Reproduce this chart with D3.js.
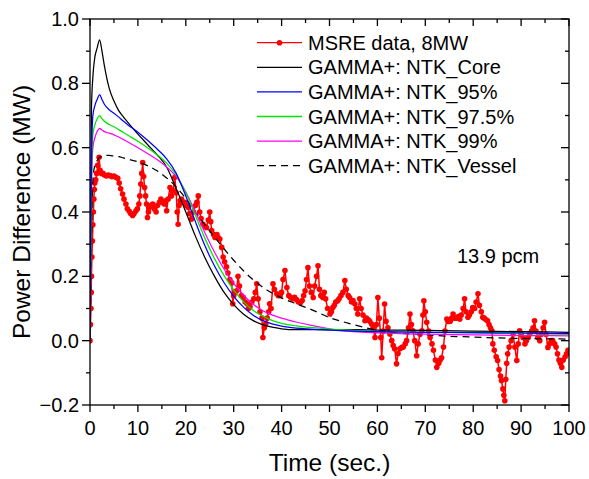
<!DOCTYPE html>
<html><head><meta charset="utf-8">
<script src="https://cdn.jsdelivr.net/npm/d3@7"></script>
<style>body{margin:0;background:#fff}svg{display:block}text{font-family:"Liberation Sans",Arial,sans-serif;fill:#000}</style>
</head><body><svg id="c" width="589" height="479"></svg>
<script>
// ---------- data ----------
const msreT = [0,0.1,0.2,0.25,0.3,0.4,0.5,0.6,0.7,0.8,0.9,1.0,1.2,1.4,1.6,1.9,2.1,2.4,2.7,3.0,3.4,3.8,4.2,4.6,5.0,5.4,5.8,6.1,6.4,6.8,7.1,7.5,7.8,8.2,8.5,8.9,9.2,9.6,9.9,10.2,10.4,10.6,10.8,11.0,11.2,11.4,11.6,11.8,12.0,12.2,12.4,12.7,13.1,13.4,13.8,14.1,14.5,14.8,15.1,15.5,15.8,16.0,16.3,16.7,17.0,17.4,17.7,18.0,18.2,18.4,18.6,18.8,19.1,19.5,19.8,20.1,20.5,20.8,21.2,21.6,22.0,22.3,22.6,22.9,23.2,23.6,24.0,24.3,24.7,25.0,25.2,25.4,25.8,26.1,26.5,26.8,27.1,27.5,27.8,28.1,28.5,28.8,29.2,29.6,29.8,30.0,30.3,30.6,30.9,31.2,31.6,32.0,32.4,32.8,33.1,33.4,33.8,34.2,34.5,34.8,35.1,35.5,35.9,36.1,36.4,36.7,37.0,37.3,37.5,37.8,38.2,38.5,39.0,39.3,39.7,40.0,40.3,40.7,41.1,41.5,41.9,42.3,42.7,43.1,43.5,43.9,44.3,44.6,44.9,45.2,45.5,45.8,46.2,46.6,46.9,47.3,47.6,47.9,48.2,48.6,48.9,49.2,49.6,50.1,50.4,50.7,51.0,51.3,51.7,52.0,52.4,52.8,53.2,53.5,53.9,54.2,54.6,54.9,55.3,55.6,55.9,56.3,56.6,57.0,57.4,57.7,58.1,58.4,58.8,59.1,59.5,59.8,60.1,60.4,60.7,60.9,61.2,61.5,61.8,62.2,62.6,63.0,63.3,63.6,64.0,64.3,64.7,65.1,65.4,65.8,66.1,66.5,66.8,67.1,67.4,67.8,68.2,68.5,68.9,69.3,69.5,69.7,70.0,70.3,70.7,71.0,71.4,71.7,72.1,72.4,72.8,73.1,73.4,73.8,74.1,74.5,74.8,75.2,75.5,75.8,76.2,76.5,76.9,77.2,77.5,77.9,78.2,78.5,78.9,79.2,79.6,79.9,80.3,80.6,81.0,81.3,81.7,82.0,82.3,82.7,83.0,83.3,83.6,83.9,84.1,84.4,84.8,85.1,85.4,85.7,85.9,86.2,86.4,86.6,86.8,87.0,87.2,87.5,87.9,88.3,88.7,89.1,89.4,89.7,90.0,90.4,90.8,91.1,91.5,91.8,92.2,92.5,92.8,93.1,93.5,93.9,94.2,94.6,94.9,95.2,95.6,95.9,96.3,96.6,97.0,97.3,97.6,97.9,98.2,98.5,98.8,99.2,99.5,99.8,100];
const msreV = [0,0.05,0.1,0.15,0.2,0.26,0.31,0.36,0.4,0.44,0.47,0.49,0.5,0.52,0.545,0.57,0.53,0.52,0.52,0.515,0.512,0.515,0.513,0.51,0.512,0.508,0.505,0.49,0.472,0.456,0.44,0.425,0.41,0.402,0.395,0.389,0.395,0.404,0.41,0.425,0.45,0.487,0.52,0.554,0.51,0.476,0.45,0.425,0.383,0.4,0.414,0.42,0.425,0.41,0.4,0.42,0.43,0.44,0.43,0.425,0.435,0.404,0.44,0.476,0.45,0.466,0.508,0.46,0.4,0.362,0.42,0.435,0.44,0.43,0.43,0.42,0.414,0.395,0.378,0.4,0.42,0.43,0.45,0.4,0.38,0.362,0.355,0.352,0.375,0.4,0.37,0.342,0.33,0.321,0.33,0.32,0.316,0.29,0.26,0.245,0.23,0.21,0.19,0.18,0.115,0.14,0.15,0.155,0.2,0.17,0.14,0.135,0.12,0.115,0.1,0.105,0.12,0.13,0.15,0.177,0.13,0.09,0.07,0.01,0.04,0.053,0.07,0.09,0.115,0.1,0.177,0.16,0.146,0.14,0.14,0.15,0.19,0.218,0.165,0.14,0.134,0.13,0.135,0.128,0.12,0.118,0.125,0.14,0.155,0.19,0.227,0.17,0.15,0.134,0.17,0.2,0.233,0.16,0.14,0.134,0.15,0.13,0.1,0.083,0.09,0.103,0.11,0.12,0.124,0.13,0.14,0.15,0.187,0.16,0.14,0.134,0.12,0.125,0.114,0.1,0.083,0.13,0.1,0.08,0.062,0.07,0.065,0.06,0.052,0.04,0.01,0.05,0.134,0.07,0.01,-0.053,0.03,0.114,0.06,0.04,0.021,0.0,-0.015,-0.025,-0.072,-0.04,-0.025,-0.021,-0.02,-0.01,0.0,0.04,0.083,0.05,0.031,0.0,-0.047,-0.01,0.02,0.031,0.08,0.124,0.09,0.057,0.03,0.01,-0.01,-0.03,-0.06,-0.083,-0.07,-0.06,-0.053,-0.02,0.03,0.067,0.06,0.06,0.07,0.083,0.07,0.07,0.075,0.067,0.08,0.1,0.13,0.09,0.073,0.08,0.09,0.103,0.1,0.12,0.146,0.11,0.09,0.073,0.07,0.065,0.062,0.05,0.04,0.031,-0.01,-0.03,-0.05,-0.062,-0.09,-0.11,-0.124,-0.15,-0.17,-0.187,-0.12,-0.07,-0.041,-0.02,0.0,0.021,-0.02,-0.062,-0.01,0.031,0.02,0.01,-0.01,0.0,0.01,0.021,0.03,0.04,0.062,0.03,0.01,0.0,0.02,0.04,0.057,0.02,-0.021,-0.01,0.0,0.0,-0.01,-0.02,-0.041,-0.06,-0.07,-0.083,-0.06,-0.05,-0.041,-0.03,-0.04];

const modelT  = [0,0.3,0.6,1,1.5,2,2.5,3,4,5,6,7,8,10,12,14,16,18,20,22,24,26,28,30,32,34,36,38,40,43,46,50,55,60,70,80,90,100];
const coreV   = [0,0.72,0.82,0.88,0.91,0.935,0.9,0.855,0.785,0.745,0.715,0.695,0.677,0.642,0.61,0.578,0.54,0.472,0.4,0.325,0.258,0.2,0.15,0.112,0.083,0.063,0.05,0.042,0.037,0.034,0.034,0.034,0.034,0.033,0.032,0.03,0.028,0.026];
const ntk95V  = [0,0.55,0.7,0.73,0.75,0.765,0.75,0.735,0.718,0.707,0.695,0.682,0.67,0.648,0.623,0.596,0.565,0.52,0.45,0.37,0.295,0.232,0.18,0.138,0.105,0.08,0.063,0.052,0.045,0.039,0.036,0.033,0.03,0.028,0.026,0.025,0.024,0.022];
const ntk975V = [0,0.5,0.64,0.67,0.69,0.7,0.69,0.682,0.672,0.665,0.656,0.647,0.638,0.62,0.6,0.578,0.552,0.515,0.46,0.39,0.318,0.255,0.202,0.158,0.122,0.095,0.077,0.063,0.054,0.046,0.041,0.036,0.032,0.029,0.026,0.024,0.022,0.02];
const ntk99V  = [0,0.45,0.6,0.63,0.65,0.66,0.655,0.65,0.645,0.64,0.633,0.625,0.617,0.6,0.582,0.563,0.54,0.51,0.462,0.4,0.335,0.275,0.222,0.178,0.142,0.114,0.094,0.08,0.07,0.058,0.048,0.037,0.028,0.024,0.02,0.018,0.016,0.015];
const vesselV = [0,0.3,0.5,0.545,0.56,0.57,0.573,0.575,0.576,0.574,0.572,0.568,0.564,0.556,0.544,0.528,0.506,0.478,0.442,0.4,0.36,0.322,0.285,0.25,0.218,0.19,0.167,0.148,0.133,0.115,0.098,0.072,0.05,0.032,0.018,0.011,0.007,0.005];

const xTicks = [0,10,20,30,40,50,60,70,80,90,100];
const yTicks = [-0.2,0,0.2,0.4,0.6,0.8,1.0];
const legendLabels = ["MSRE data, 8MW","GAMMA+: NTK_Core","GAMMA+: NTK_95%","GAMMA+: NTK_97.5%","GAMMA+: NTK_99%","GAMMA+: NTK_Vessel"];
const annotation = "13.9 pcm";
const xTitle = "Time (sec.)";
const yTitle = "Power Difference (MW)";

// ---------- layout ----------
const L = 90, R = 569, T = 19, B = 405;
const svg = d3.select("#c");
const x = d3.scaleLinear().domain([0,100]).range([L,R]);
const y = d3.scaleLinear().domain([-0.2,1.0]).range([B,T]);

const plot = svg.append("g");
svg.append("clipPath").attr("id","clip").append("rect").attr("x",L).attr("y",T-3).attr("width",R-L).attr("height",B-T+6);
const clipped = plot.append("g").attr("clip-path","url(#clip)");

const line = d3.line().x(d=>x(d[0])).y(d=>y(d[1])).curve(d3.curveMonotoneX);
const series = [
  {v: vesselV, color:"#000", dash:"7,5"},
  {v: coreV, color:"#000", dash:null},
  {v: ntk99V, color:"#ff00ff", dash:null},
  {v: ntk975V, color:"#00e600", dash:null},
  {v: ntk95V, color:"#0000ff", dash:null}
];

// MSRE red
const msre = msreT.map((t,i)=>[t,msreV[i]]);
clipped.append("path").datum(msre).attr("fill","none").attr("stroke","#ff0000").attr("stroke-width",1.5)
  .attr("d", d3.line().x(d=>x(d[0])).y(d=>y(d[1])));
clipped.selectAll("circle.m").data(msre).join("circle").attr("class","m")
  .attr("cx",d=>x(d[0])).attr("cy",d=>y(d[1])).attr("r",2.8).attr("fill","#ff0000");

series.forEach(s=>{
  clipped.append("path").datum(modelT.map((t,i)=>[t,s.v[i]]))
    .attr("fill","none").attr("stroke",s.color).attr("stroke-width",1.25)
    .attr("stroke-dasharray",s.dash).attr("d",line);
});

// ---------- axes ----------
const fs = 20;
const xMinor = d3.range(5,100,10), yMinor = [-0.1,0.1,0.3,0.5,0.7,0.9];
const ax = svg.append("g").attr("stroke","#000").attr("stroke-width",1.3);
ax.append("rect").attr("x",L).attr("y",T).attr("width",R-L).attr("height",B-T).attr("fill","none");
xTicks.forEach(t=>{
  ax.append("line").attr("x1",x(t)).attr("x2",x(t)).attr("y1",B).attr("y2",B+7);
  ax.append("line").attr("x1",x(t)).attr("x2",x(t)).attr("y1",T).attr("y2",T+7);
});
xMinor.forEach(t=>{
  ax.append("line").attr("x1",x(t)).attr("x2",x(t)).attr("y1",B).attr("y2",B+4);
  ax.append("line").attr("x1",x(t)).attr("x2",x(t)).attr("y1",T).attr("y2",T+4);
});
yTicks.forEach(t=>{
  ax.append("line").attr("x1",L-8).attr("x2",L).attr("y1",y(t)).attr("y2",y(t));
  ax.append("line").attr("x1",R-8).attr("x2",R).attr("y1",y(t)).attr("y2",y(t));
});
yMinor.forEach(t=>{
  ax.append("line").attr("x1",L-4).attr("x2",L).attr("y1",y(t)).attr("y2",y(t));
  ax.append("line").attr("x1",R-4).attr("x2",R).attr("y1",y(t)).attr("y2",y(t));
});
const fmtY = d3.format(".1f");
svg.append("g").selectAll("text").data(xTicks).join("text")
  .attr("x",d=>x(d)).attr("y",435).attr("text-anchor","middle").attr("font-size",fs).text(d=>d);
svg.append("g").selectAll("text").data(yTicks).join("text")
  .attr("x",L-11).attr("y",d=>y(d)+7).attr("text-anchor","end").attr("font-size",fs).text(d=>fmtY(d));

svg.append("text").attr("x",(L+R)/2).attr("y",471).attr("text-anchor","middle").attr("font-size",24.5).text(xTitle);
svg.append("text").attr("transform",`translate(30,${(T+B)/2}) rotate(-90)`).attr("text-anchor","middle").attr("font-size",24.5).text(yTitle);

svg.append("text").attr("x",457).attr("y",262.5).attr("font-size",fs).text(annotation);

// ---------- legend ----------
const legStyles = [
  {color:"#ff0000", dash:null, marker:true},
  {color:"#000", dash:null},
  {color:"#0000ff", dash:null},
  {color:"#00e600", dash:null},
  {color:"#ff00ff", dash:null},
  {color:"#000", dash:"7,5"}
];
const lg = svg.append("g");
legendLabels.forEach((lab,i)=>{
  const cy = 42.7 + i*24.6;
  const st = legStyles[i];
  lg.append("line").attr("x1",257).attr("x2",302).attr("y1",cy).attr("y2",cy)
    .attr("stroke",st.color).attr("stroke-width",1.3).attr("stroke-dasharray",st.dash);
  if (st.marker) lg.append("circle").attr("cx",279.5).attr("cy",cy).attr("r",2.8).attr("fill","#ff0000");
  lg.append("text").attr("x",308).attr("y",cy+7).attr("font-size",fs).text(lab);
});
</script></body></html>
